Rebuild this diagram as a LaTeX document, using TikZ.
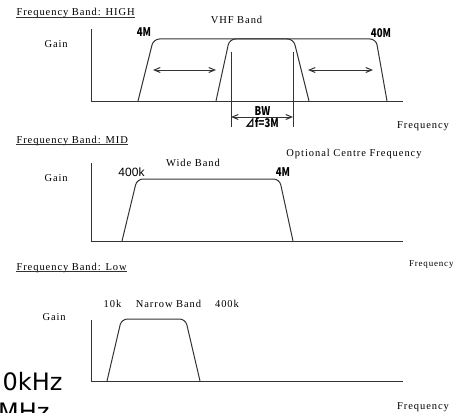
\documentclass[tikz,border=0pt]{standalone}
\usepackage{fontspec}
\setmainfont{Liberation Serif}
\newfontfamily\lblfont[LetterSpace=9]{Liberation Serif}
\newfontfamily\gothic{Noto Sans CJK JP}
\newfontfamily\plainsans{Liberation Sans}
\newfontfamily\bigsans{DejaVu Sans}
\usetikzlibrary{calc,arrows.meta}

\begin{document}
\begin{tikzpicture}[x=1pt, y=-1pt, line width=1pt, draw=black!80,
  lbl/.style={inner sep=0pt, anchor=base, font=\lblfont\fontsize{10.5}{12}\selectfont},
  gth/.style={inner sep=0pt, anchor=base, xscale=0.8, font=\gothic\bfseries\fontsize{12}{14}\selectfont},
  dbl/.style={{Straight Barb[length=6pt,width=5pt]}-{Straight Barb[length=6pt,width=5pt]}}]
  \useasboundingbox (0,0) rectangle (457,412);

  % HIGH
  \node[lbl, anchor=base west] (thigh) at (16,16) {Frequency Band: HIGH};
  \draw ($(thigh.base west)+(0,1.5)$) -- ($(thigh.base east)+(0,1.5)$);
  \node[lbl, anchor=base west] (ghigh) at (44,47.7) {Gain};
  \node[lbl] (vhf) at (236.5,24) {VHF Band};
  \node[lbl] (fhigh) at (423,128) {Frequency};
  \coordinate (O1) at (91,101);
  \draw (91,29) -- (O1) -- (403,101);
  \draw[rounded corners=6pt] (138,101) -- (153.5,39) -- (376,39) -- (387,101);
  \draw[rounded corners=6pt] (216,101) -- (229.5,39) -- (293.5,39) -- (309,101);
  \node[gth] (f4m) at (144,36.7) {4M};
  \node[gth] (f40m) at (381,37.3) {40M};
  \coordinate (la) at (153,70);
  \coordinate (lb) at (216,70);
  \coordinate (ra) at (308,70);
  \coordinate (rb) at (373,70);
  \draw[dbl] (la) -- (lb);
  \draw[dbl] (ra) -- (rb);

  % BW
  \coordinate (bwl) at (231,52);
  \coordinate (bwr) at (293,52);
  \draw (bwl) -- ++(0,75);
  \draw (bwr) -- ++(0,75);
  \draw[dbl] ($(bwl)+(0,65)$) -- ($(bwr)+(0,65)$);
  \node[gth] (bw) at (262.5,115.5) {BW};
  \node[gth] (df) at (262,127.5) {⊿f=3M};

  % MID
  \node[lbl, anchor=base west] (tmid) at (16,143.3) {Frequency Band: MID};
  \draw ($(tmid.base west)+(0,1.5)$) -- ($(tmid.base east)+(0,1.5)$);
  \node[lbl, anchor=base west] (gmid) at (44,181.7) {Gain};
  \node[lbl] (wide) at (193,166) {Wide Band};
  \node[lbl] (opt) at (354,156) {Optional Centre Frequency};
  \node[lbl, anchor=base east, font=\lblfont\fontsize{9}{11}\selectfont] (fmid) at (454,266.7) {Frequency};
  \coordinate (O2) at (91,241);
  \draw (91,163) -- (O2) -- (403,241);
  \draw[rounded corners=6pt] (122,241) -- (137,179) -- (279.5,179) -- (293,241);
  \node[inner sep=0pt, anchor=base, font=\plainsans\fontsize{12}{14}\selectfont] (k400) at (131.5,176.7) {400k};
  \node[gth] (m4) at (283,176.7) {4M};

  % Low
  \node[lbl, anchor=base west] (tlow) at (16,270) {Frequency Band: Low};
  \draw ($(tlow.base west)+(0,1.5)$) -- ($(tlow.base east)+(0,1.5)$);
  \node[lbl, anchor=base west] (glow) at (42,320) {Gain};
  \node[lbl] (k10) at (112.5,307) {10k};
  \node[lbl] (narrow) at (168.5,307) {Narrow Band};
  \node[lbl] (k400b) at (227,307) {400k};
  \node[lbl] (flow) at (423,409.3) {Frequency};
  \coordinate (O3) at (91,381);
  \draw (91,320) -- (O3) -- (403,381);
  \draw[rounded corners=6pt] (107,381) -- (121.5,319) -- (185.5,319) -- (200,381);

  % cut-off text
  \node[inner sep=0pt, anchor=base east, font=\bigsans\fontsize{24}{28}\selectfont] (khz) at (63,390) {0kHz};
  \node[inner sep=0pt, anchor=base east, font=\bigsans\fontsize{24}{28}\selectfont] (mhz) at (50,420) {MHz};
\end{tikzpicture}
\end{document}
